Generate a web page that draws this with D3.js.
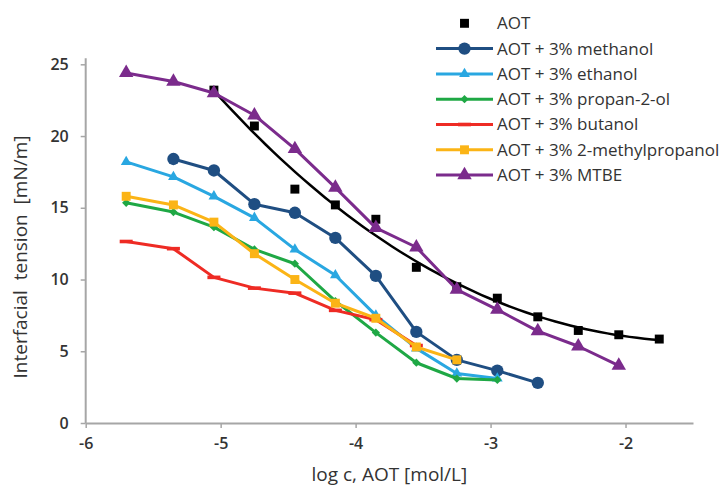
<!DOCTYPE html>
<html>
<head>
<meta charset="utf-8">
<script src="https://cdnjs.cloudflare.com/ajax/libs/d3/7.8.5/d3.min.js"></script>
<style>
    body { margin: 0; background: #fff; }
    text { font-family: "Open Sans", sans-serif; fill: #333; }
</style>
</head>
<body>
<div id="chart"></div>
<script>
// log c values (every series uses a slice of these)
var logC = [-5.7, -5.35, -5.05, -4.75, -4.45, -4.15, -3.85, -3.55, -3.25, -2.95, -2.65, -2.35, -2.05, -1.75];

// Interfacial tension values, mN/m
var aotX = logC.slice(2, 14);
var aotY = [23.2, 20.7, 16.3, 15.2, 14.2, 10.85, 9.5, 8.7, 7.4, 6.45, 6.15, 5.85];
var methanolX = logC.slice(1, 11);
var methanolY = [18.4, 17.6, 15.25, 14.65, 12.9, 10.25, 6.35, 4.4, 3.65, 2.8];
var ethanolX = logC.slice(0, 10);
var ethanolY = [18.2, 17.15, 15.8, 14.3, 12.1, 10.3, 7.5, 5.2, 3.45, 3.1];
var propanolX = logC.slice(0, 10);
var propanolY = [15.35, 14.7, 13.65, 12.1, 11.1, 8.5, 6.3, 4.2, 3.1, 3.0];
var butanolX = logC.slice(0, 8);
var butanolY = [12.65, 12.15, 10.15, 9.4, 9.05, 7.85, 7.2, 5.4];
var methylpropanolX = logC.slice(0, 9);
var methylpropanolY = [15.8, 15.2, 14.0, 11.8, 10.0, 8.35, 7.3, 5.3, 4.4];
var mtbeX = logC.slice(0, 13);
var mtbeY = [24.4, 23.8, 23.0, 21.45, 19.1, 16.4, 13.6, 12.25, 9.3, 7.9, 6.4, 5.35, 4.0];

var xTicks = [-6, -5, -4, -3, -2];
var yTicks = [0, 5, 10, 15, 20, 25];

var series = [
    {name: "AOT", xs: aotX, ys: aotY, color: "#000000", marker: "square", size: 80, line: false},
    {name: "AOT + 3% methanol", xs: methanolX, ys: methanolY, color: "#1f4e82", marker: "circle", size: 120, line: true},
    {name: "AOT + 3% ethanol", xs: ethanolX, ys: ethanolY, color: "#29a7e1", marker: "triangle", size: 50, line: true},
    {name: "AOT + 3% propan-2-ol", xs: propanolX, ys: propanolY, color: "#1fa845", marker: "diamond", size: 34, line: true},
    {name: "AOT + 3% butanol", xs: butanolX, ys: butanolY, color: "#ee2b24", marker: "dash", size: 0, line: true},
    {name: "AOT + 3% 2-methylpropanol", xs: methylpropanolX, ys: methylpropanolY, color: "#fbb416", marker: "square", size: 80, line: true},
    {name: "AOT + 3% MTBE", xs: mtbeX, ys: mtbeY, color: "#7b2b8c", marker: "triangle", size: 90, line: true}
];

var width = 719, height = 490;

var svg = d3.select("#chart")
    .append("svg")
    .attr("width", width)
    .attr("height", height);

var x = d3.scaleLinear().domain([-6, -1.5]).range([85.7, 693]);
var y = d3.scaleLinear().domain([0, 25]).range([423, 64.3]);

// Axes
var xAxis = svg.append("g")
    .attr("transform", "translate(0," + y(0) + ")")
    .call(d3.axisBottom(x).tickValues(xTicks).tickFormat(d => String(d)).tickSize(5).tickPadding(10).tickSizeOuter(0));
var yAxis = svg.append("g")
    .attr("transform", "translate(" + x(-6) + ",0)")
    .call(d3.axisLeft(y).tickValues(yTicks).tickFormat(d => String(d)).tickSize(5).tickPadding(12).tickSizeOuter(0));

[xAxis, yAxis].forEach(function(g) {
    g.select(".domain").attr("stroke", "#a6a6a6").attr("stroke-width", 2);
    g.selectAll(".tick line").attr("stroke", "#a6a6a6").attr("stroke-width", 1.5);
    g.selectAll(".tick text")
        .style("font-family", "Open Sans")
        .style("font-size", "16px")
        .style("font-weight", "600")
        .attr("fill", "#3a3a3a");
});
// y axis line runs a little above the 25 tick
yAxis.select(".domain").attr("d", "M0," + y(0) + "V" + (y(25) - 6));

// Axis titles
svg.append("text")
    .attr("x", (x(-6) + x(-1.5)) / 2)
    .attr("y", 481)
    .attr("text-anchor", "middle")
    .style("font-size", "19px")
    .text("log c, AOT [mol/L]");

svg.append("text")
    .attr("transform", "translate(27," + 257 + ") rotate(-90)")
    .attr("text-anchor", "middle")
    .style("font-size", "19px")
    .style("white-space", "pre")
    .text("Interfacial  tension  [mN/m]");

function markerPath(s) {
    if (s.marker === "circle") return d3.symbol(d3.symbolCircle, s.size)();
    if (s.marker === "triangle") return d3.symbol(d3.symbolTriangle, s.size)();
    if (s.marker === "square") return d3.symbol(d3.symbolSquare, s.size)();
    if (s.marker === "diamond") return d3.symbol(d3.symbolSquare, s.size)();
    return "M-6.5,-1.8H6.5V1.8H-6.5Z";
}

var line = d3.line().x(d => x(d[0])).y(d => y(d[1]));

// AOT trendline: least-squares cubic through the AOT points
function polyFit(xs, ys, deg) {
    var n = deg + 1, A = [], b = [];
    for (var i = 0; i < n; i++) {
        A.push([]);
        for (var j = 0; j < n; j++) A[i].push(d3.sum(xs, v => Math.pow(v, i + j)));
        b.push(d3.sum(xs, (v, k) => ys[k] * Math.pow(v, i)));
    }
    for (var c = 0; c < n; c++) {
        for (var r = c + 1; r < n; r++) {
            var f = A[r][c] / A[c][c];
            for (var k = c; k < n; k++) A[r][k] -= f * A[c][k];
            b[r] -= f * b[c];
        }
    }
    var coef = new Array(n).fill(0);
    for (var r2 = n - 1; r2 >= 0; r2--) {
        var s = b[r2];
        for (var k2 = r2 + 1; k2 < n; k2++) s -= A[r2][k2] * coef[k2];
        coef[r2] = s / A[r2][r2];
    }
    return v => d3.sum(coef, (cf, p) => cf * Math.pow(v, p));
}
var trend = polyFit(aotX, aotY, 3);
var trendPts = d3.range(0, 61).map(i => {
    var xv = aotX[0] + (aotX[aotX.length - 1] - aotX[0]) * i / 60;
    return [xv, trend(xv)];
});
svg.append("path")
    .attr("d", line(trendPts))
    .attr("fill", "none")
    .attr("stroke", "#000")
    .attr("stroke-width", 2.5);

series.forEach(function(s) {
    var pts = d3.zip(s.xs, s.ys);
    if (s.line) {
        svg.append("path")
            .attr("d", line(pts))
            .attr("fill", "none")
            .attr("stroke", s.color)
            .attr("stroke-width", 3)
            .attr("stroke-linejoin", "round");
    }
    svg.selectAll(null)
        .data(pts)
        .enter()
        .append("path")
        .attr("d", markerPath(s))
        .attr("transform", d => "translate(" + x(d[0]) + "," + y(d[1]) + ")" + (s.marker === "diamond" ? " rotate(45)" : ""))
        .attr("fill", s.color);
});

// Legend
var legend = svg.append("g");
series.forEach(function(s, i) {
    var ly = 23.3 + i * 25.3;
    if (s.line) {
        legend.append("line")
            .attr("x1", 436).attr("x2", 493)
            .attr("y1", ly).attr("y2", ly)
            .attr("stroke", s.color)
            .attr("stroke-width", 3);
    }
    legend.append("path")
        .attr("d", markerPath(s))
        .attr("transform", "translate(464.5," + ly + ")" + (s.marker === "diamond" ? " rotate(45)" : ""))
        .attr("fill", s.color);
    legend.append("text")
        .attr("x", 497)
        .attr("y", ly)
        .attr("dy", "0.35em")
        .style("font-size", "17px")
        .attr("fill", "#222")
        .text(s.name);
});
</script>
</body>
</html>
